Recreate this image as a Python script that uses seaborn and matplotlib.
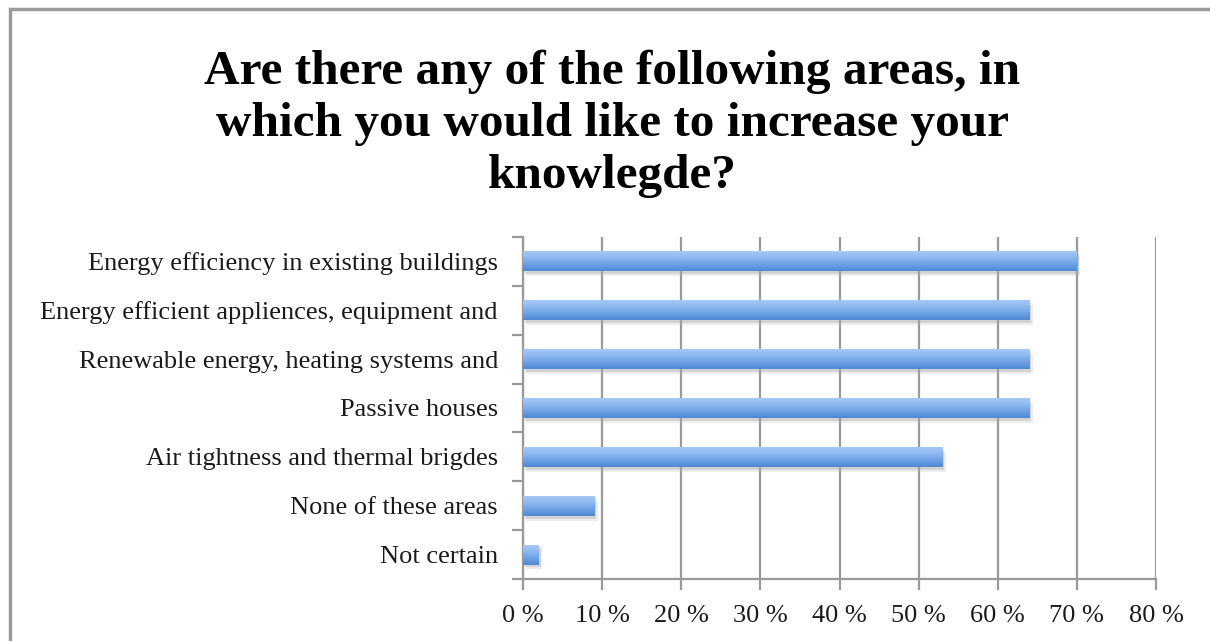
import matplotlib
matplotlib.use("Agg")
import matplotlib.pyplot as plt
import matplotlib.patheffects as pe
from matplotlib.colors import LinearSegmentedColormap
from matplotlib.patches import Rectangle
from matplotlib.ticker import FixedLocator, FuncFormatter
import numpy as np
import pandas as pd
import seaborn as sns

# Survey answers (share of respondents, %)
areas = [
    "Energy efficiency in existing buildings",
    "Energy efficient appliences, equipment and",
    "Renewable energy, heating systems and",
    "Passive houses",
    "Air tightness and thermal brigdes",
    "None of these areas",
    "Not certain",
]
shares = [70, 64, 64, 64, 53, 9, 2]
x_ticks = [0, 10, 20, 30, 40, 50, 60, 70, 80]

title = ("Are there any of the following areas, in\n"
         "which you would like to increase your\n"
         "knowlegde?")

sns.set_theme(style="white")
plt.rcParams["font.family"] = ["Liberation Serif", "DejaVu Serif"]

df = pd.DataFrame({"area": areas, "share": shares})

fig = plt.figure(figsize=(12.1, 6.41), dpi=100)
ax = fig.add_axes([523 / 1210, 1 - 579 / 641, (1156 - 523) / 1210, (579 - 237) / 641])

sns.barplot(data=df, x="share", y="area", orient="h", color="#6fa3e6",
            width=0.41, ax=ax, zorder=3)

# vertical gradient (light on top, darker below) + soft shadow on each bar
grad = LinearSegmentedColormap.from_list(
    "bar", ["#a9cbf8", "#8fbaf1", "#6ea2e6", "#4d89d5"])
gimg = np.linspace(0, 1, 64).reshape(-1, 1)
for patch in ax.patches:
    x0, y0 = patch.get_x(), patch.get_y()
    w, h = patch.get_width(), patch.get_height()
    patch.set_path_effects([
        pe.SimplePatchShadow(offset=(2.5, -3.5), shadow_rgbFace="#bbbbbb", alpha=0.25),
        pe.SimplePatchShadow(offset=(1.5, -2), shadow_rgbFace="#999999", alpha=0.3),
        pe.Normal()])
    patch.set_edgecolor("none")
    # y axis is inverted: row 0 of the image sits at y0 (the top edge of the bar)
    im = ax.imshow(gimg, cmap=grad, aspect="auto", origin="upper",
                   extent=(x0, x0 + w, y0 + h, y0), zorder=4, interpolation="bilinear")
    im.set_clip_path(patch)

ax.set_xlim(0, 80)
ax.set_ylim(len(areas) - 0.5, -0.5)
ax.set_xlabel("")
ax.set_ylabel("")

ax.xaxis.set_major_locator(FixedLocator(x_ticks))
ax.xaxis.set_major_formatter(FuncFormatter(lambda v, p: f"{int(v)} %"))
ax.grid(axis="x", color="#9a9a9a", linewidth=1.6, zorder=0)
ax.grid(axis="y", visible=False)

# y ticks at the category boundaries, labels centred on the bars
ax.set_yticks(np.arange(len(areas)))
ax.set_yticklabels(areas)
ax.yaxis.set_minor_locator(FixedLocator(np.arange(-0.5, len(areas), 1.0)))
ax.tick_params(axis="y", which="major", length=0, pad=18, labelsize=19, labelcolor="#1a1a1a")
ax.tick_params(axis="y", which="minor", length=8, width=1.6, color="#9a9a9a", left=True)
ax.tick_params(axis="x", which="major", length=8, width=1.6, color="#9a9a9a", bottom=True,
               pad=11, labelsize=19, labelcolor="#1a1a1a")

for side in ("top", "right"):
    ax.spines[side].set_visible(False)
for side in ("left", "bottom"):
    ax.spines[side].set_color("#9a9a9a")
    ax.spines[side].set_linewidth(1.6)

fig.text(0.506, 1 - 123.5 / 641, title, ha="center", va="center", multialignment="center",
         fontsize=35.5, fontweight="bold", color="black", linespacing=1.24)

# outer chart frame
fig.patches.append(Rectangle((9.5 / 1210, -0.05), 1.2, 1 - 8.5 / 641 + 0.05,
                             transform=fig.transFigure, fill=False,
                             edgecolor="#9a9a9a", linewidth=2.5))

fig.savefig("out.png", dpi=100, facecolor="white")
